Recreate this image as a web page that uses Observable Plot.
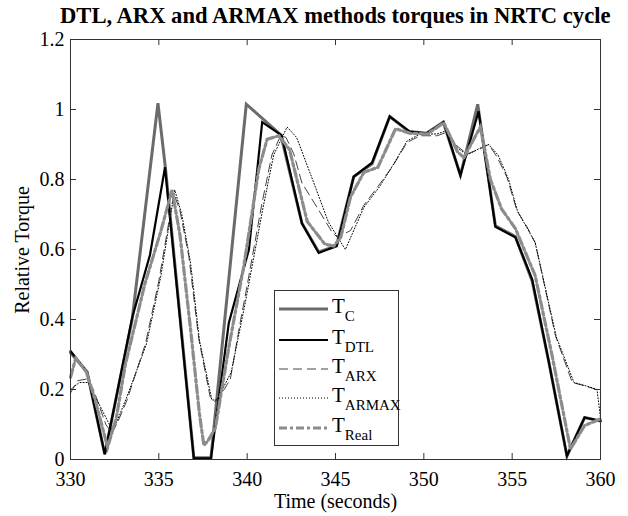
<!DOCTYPE html>
<html><head><meta charset="utf-8">
<script src="https://cdn.jsdelivr.net/npm/d3@7"></script>
<script src="https://cdn.jsdelivr.net/npm/@observablehq/plot@0.6"></script>
<style>
body{margin:0;background:#fff;}
#wrap{position:relative;width:628px;height:516px;font-family:"Liberation Serif","Times New Roman",serif;color:#000;}
#title{position:absolute;left:60px;width:550px;top:3px;text-align:center;font-weight:bold;font-size:22.6px;white-space:nowrap;}
#ylab{position:absolute;left:22px;top:250px;transform:translate(-50%,-50%) rotate(-90deg);font-size:20px;white-space:nowrap;}
#legend{position:absolute;left:274px;top:290px;width:125px;height:156px;border:1px solid #333;background:#fff;box-sizing:border-box;}
.row{position:absolute;left:0;height:30px;width:124px;}
.row svg{position:absolute;left:3px;top:0;}
.row .lab{position:absolute;left:57px;top:-5px;font-size:21px;white-space:nowrap;}
.row .lab sub{font-size:15px;vertical-align:-8px;}
</style></head>
<body>
<div id="wrap">
  <div id="chart"></div>
  <div id="title">DTL, ARX and ARMAX methods torques in NRTC cycle</div>
  <div id="ylab">Relative Torque</div>
  <div id="legend"></div>
</div>
<script>
// ---- data ----
const xTicks = [330, 335, 340, 345, 350, 355, 360];
const yTicks = [0, 0.2, 0.4, 0.6, 0.8, 1, 1.2];

const tC   = [330,330.94,331.94,333.49,334.95,335.38,336.98,337.95,339.95,341.9,343.1,344.05,345.05,346.03,347.07,348.07,349.15,350.15,351.1,352.07,353.05,354.05,355.18,356.13,357.07,358.1,359.1,360];
const vC   = [0.305,0.25,0.015,0.40,1.018,0.83,0.005,0.005,1.015,0.928,0.675,0.593,0.61,0.808,0.845,0.98,0.937,0.932,0.964,0.812,1.015,0.668,0.637,0.51,0.28,0.01,0.12,0.11];

const tDTL = [330,330.94,331.94,333.49,334.5,335.35,336.98,337.95,338.96,340.1,340.85,341.95,343.1,344.05,345.07,346.03,347.07,348.07,349.2,350.15,351.12,352.07,353.1,354.05,355.18,356.13,357.07,358.1,359.1,360];
const vDTL = [0.31,0.25,0.015,0.405,0.585,0.835,0.003,0.003,0.39,0.60,0.964,0.926,0.675,0.59,0.61,0.808,0.848,0.98,0.937,0.932,0.964,0.812,0.995,0.665,0.635,0.515,0.28,0.01,0.12,0.11];

const tARX = [330,330.4,330.9,331.3,332,332.35,332.7,333.2,334.24,335,335.47,335.85,336.2,336.7,337.26,337.9,338.15,338.7,339.05,339.6,339.9,340.85,341.4,341.9,342.2,342.64,343.1,343.96,344.8,345.1,345.85,346.6,347.4,348.2,349.05,349.8,350.75,351.3,351.9,352.45,353.2,353.67,354.15,354.7,355.28,355.85,356.3,357.45,358.4,359.15,359.9,360];
const vARX = [0.19,0.225,0.23,0.2,0.1,0.075,0.11,0.17,0.33,0.51,0.65,0.76,0.71,0.58,0.345,0.18,0.165,0.2,0.23,0.39,0.47,0.735,0.87,0.926,0.92,0.873,0.79,0.72,0.65,0.635,0.654,0.726,0.78,0.835,0.906,0.925,0.925,0.935,0.895,0.873,0.888,0.90,0.864,0.807,0.71,0.664,0.62,0.354,0.22,0.21,0.198,0.19];

const tARMAX = [330,330.5,331,332,332.4,333.2,334.3,335.1,335.9,336.3,336.8,337.3,338,338.3,339.1,339.9,340.9,341.5,342.26,342.8,343.7,344.6,345.56,346.6,347.5,348.3,349.05,349.8,350.75,351.3,351.9,352.45,353.2,353.67,354.2,354.8,355.3,356.3,357.5,358.5,359.2,359.8,360];
const vARMAX = [0.2,0.22,0.22,0.12,0.08,0.18,0.33,0.52,0.77,0.7,0.56,0.34,0.17,0.17,0.25,0.45,0.72,0.87,0.95,0.92,0.80,0.678,0.60,0.72,0.78,0.845,0.91,0.93,0.93,0.94,0.89,0.87,0.89,0.90,0.87,0.80,0.71,0.62,0.35,0.22,0.21,0.2,0.12];

const tReal = [330,330.3,330.9,331.4,332.1,332.6,333.1,334.2,335.1,335.75,336.2,336.8,337.3,337.55,337.8,338.2,338.96,339.8,340.66,341.13,341.8,342.4,343.4,344.4,344.9,345.3,345.85,346.6,347.4,348.4,349.24,350.2,351.13,351.9,352.26,353.2,353.77,354.4,355.18,356.3,357.26,358.3,359.1,360];
const vReal = [0.235,0.29,0.25,0.17,0.035,0.12,0.27,0.50,0.65,0.77,0.64,0.37,0.13,0.04,0.055,0.09,0.32,0.55,0.83,0.915,0.925,0.885,0.68,0.615,0.61,0.635,0.75,0.82,0.835,0.945,0.932,0.93,0.962,0.88,0.862,0.95,0.80,0.716,0.66,0.526,0.297,0.03,0.097,0.116];

const seriesNames = ["C", "DTL", "ARX", "ARMAX", "Real"];
const xLabel = "Time (seconds)";
// ---------------------------------------

const styles = {
  C:     {stroke: "#6b6b6b", strokeWidth: 3,   dash: null},
  DTL:   {stroke: "#000000", strokeWidth: 2.2, dash: null},
  ARX:   {stroke: "#444444", strokeWidth: 1,   dash: "9,5"},
  ARMAX: {stroke: "#000000", strokeWidth: 1,   dash: "1,2"},
  Real:  {stroke: "#8c8c8c", strokeWidth: 3.2, dash: "8,3,3,3"}
};
const seriesData = {
  C: tC.map((t, i) => ({t, v: vC[i]})),
  DTL: tDTL.map((t, i) => ({t, v: vDTL[i]})),
  ARX: tARX.map((t, i) => ({t, v: vARX[i]})),
  ARMAX: tARMAX.map((t, i) => ({t, v: vARMAX[i]})),
  Real: tReal.map((t, i) => ({t, v: vReal[i]}))
};

const H = 516, MT = 39, MB = 57, ML = 70, MR = 28;
const innerH = H - MT - MB, innerW = 628 - ML - MR;

const lineMarks = seriesNames.map(n => Plot.line(seriesData[n], {
  x: "t", y: "v", stroke: styles[n].stroke, strokeWidth: styles[n].strokeWidth,
  strokeDasharray: styles[n].dash, strokeLinejoin: "miter", strokeMiterlimit: 4
}));

const chart = Plot.plot({
  width: 628, height: H,
  marginTop: MT, marginBottom: MB, marginLeft: ML, marginRight: MR,
  style: {fontFamily: "'Liberation Serif','Times New Roman',serif", fontSize: "20px", color: "#000", background: "#fff"},
  x: {domain: [330, 360], ticks: xTicks, tickSize: 0, tickPadding: 12, tickFormat: d => String(d), label: null},
  y: {domain: [0, 1.2], ticks: yTicks, tickSize: 0, tickPadding: 6, tickFormat: d => String(+d.toFixed(1)), label: null},
  marks: [
    ...lineMarks,
    Plot.tickX(xTicks, {x: d => d, insetTop: innerH - 6, stroke: "#333"}),
    Plot.tickX(xTicks, {x: d => d, insetBottom: innerH - 6, stroke: "#333"}),
    Plot.tickY(yTicks, {y: d => d, insetRight: innerW - 6, stroke: "#333"}),
    Plot.tickY(yTicks, {y: d => d, insetLeft: innerW - 6, stroke: "#333"}),
    Plot.frame({stroke: "#333", strokeWidth: 1}),
    Plot.text([xLabel], {text: d => d, frameAnchor: "bottom", lineAnchor: "middle", dy: 42, fontSize: 20, fill: "#000"})
  ]
});
document.getElementById("chart").appendChild(chart);

// legend (inside the axes box, as in the reference)
const legend = document.getElementById("legend");
const rowTops = [8, 39, 68, 97, 127];
seriesNames.forEach((n, i) => {
  const row = document.createElement("div");
  row.className = "row";
  row.style.top = rowTops[i] + "px";
  const s = styles[n];
  row.innerHTML = `<svg width="52" height="20"><line x1="1" x2="50" y1="10" y2="10" stroke="${s.stroke}" stroke-width="${s.strokeWidth}" ${s.dash ? `stroke-dasharray="${s.dash}"` : ""}/></svg>` +
    `<span class="lab">T<sub>${n}</sub></span>`;
  legend.appendChild(row);
});
</script>
</body></html>
